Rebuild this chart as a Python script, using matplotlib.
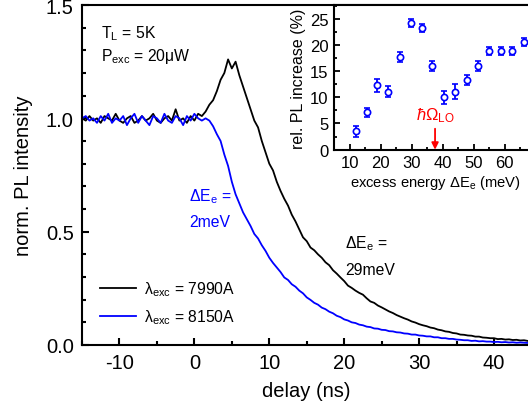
import numpy as np
import matplotlib
matplotlib.use("Agg")
import matplotlib.pyplot as plt
from matplotlib.ticker import MultipleLocator

plt.rcParams['font.family'] = ['Liberation Sans', 'DejaVu Sans']
plt.rcParams['mathtext.fontset'] = 'custom'
plt.rcParams['mathtext.rm'] = 'Liberation Sans'
plt.rcParams['mathtext.it'] = 'Liberation Sans:italic'
plt.rcParams['mathtext.bf'] = 'Liberation Sans:bold'
plt.rcParams['axes.unicode_minus'] = False

# ---------------- data ----------------
delay_ns = np.arange(-15.0, 44.51, 0.5)

pl_7990 = [1.00, 0.99, 1.01, 0.99, 1.00, 0.98, 1.01, 1.00, 0.99, 1.02, 0.99,
           0.98, 1.00, 1.01, 0.98, 0.99, 1.01, 0.99, 1.00, 1.02, 0.99, 0.98,
           1.00, 1.01, 0.99, 1.04, 0.99, 1.00, 0.98, 1.01, 0.99, 1.02, 1.01,
           1.03, 1.06, 1.08, 1.12, 1.17, 1.20, 1.26, 1.22, 1.25, 1.19, 1.14,
           1.09, 1.04, 0.99, 0.96, 0.90, 0.85, 0.80, 0.77, 0.72, 0.68, 0.645,
           0.615, 0.575, 0.545, 0.51, 0.475, 0.458, 0.43, 0.418, 0.40, 0.385,
           0.365, 0.352, 0.33, 0.315, 0.298, 0.282, 0.262, 0.252, 0.24, 0.23,
           0.222, 0.206, 0.192, 0.186, 0.174, 0.166, 0.157, 0.148, 0.141, 0.132,
           0.125, 0.118, 0.112, 0.104, 0.099, 0.092, 0.087, 0.083, 0.077, 0.074,
           0.068, 0.065, 0.060, 0.058, 0.053, 0.051, 0.046, 0.045, 0.042, 0.041,
           0.037, 0.037, 0.033, 0.032, 0.030, 0.030, 0.026, 0.027, 0.024, 0.025,
           0.022, 0.023, 0.020, 0.021, 0.018]

pl_8150 = [1.00, 1.01, 0.99, 1.00, 0.98, 1.01, 0.99, 1.02, 0.98, 1.00, 0.99,
           1.01, 0.97, 1.00, 1.02, 0.98, 1.01, 0.99, 0.97, 1.01, 1.00, 0.98,
           1.02, 0.99, 0.98, 1.01, 1.00, 0.97, 1.01, 0.99, 1.02, 1.00, 0.99,
           1.00, 0.99, 0.965, 0.93, 0.90, 0.84, 0.79, 0.72, 0.665, 0.625, 0.585,
           0.555, 0.525, 0.49, 0.47, 0.44, 0.415, 0.385, 0.362, 0.342, 0.322, 0.298,
           0.287, 0.268, 0.257, 0.24, 0.228, 0.21, 0.199, 0.186, 0.178, 0.165,
           0.158, 0.147, 0.140, 0.129, 0.123, 0.113, 0.108, 0.100, 0.097, 0.090,
           0.087, 0.081, 0.079, 0.073, 0.072, 0.067, 0.066, 0.061, 0.060, 0.056,
           0.055, 0.051, 0.050, 0.046, 0.046, 0.042, 0.041, 0.038, 0.038, 0.034,
           0.034, 0.030, 0.030, 0.027, 0.027, 0.024, 0.023, 0.021, 0.021, 0.018,
           0.019, 0.016, 0.017, 0.015, 0.015, 0.013, 0.014, 0.012, 0.013, 0.011,
           0.012, 0.010, 0.011, 0.010, 0.009]

excess_energy = [12.0, 15.45, 18.9, 22.4, 26.2, 29.7, 33.3, 36.6, 40.3, 44.0,
                 47.7, 51.4, 55.0, 58.7, 62.4, 66.1]
pl_increase = [3.5, 7.1, 12.3, 11.1, 17.7, 24.2, 23.2, 16.0, 10.0, 11.1,
               13.3, 16.0, 18.8, 18.8, 18.8, 20.6]
pl_increase_err = [1.0, 0.9, 1.2, 1.1, 0.9, 0.8, 0.8, 1.0, 1.2, 1.4,
                   0.9, 0.9, 0.8, 0.7, 0.8, 0.8]
inset_xticks = [10, 20, 30, 40, 50, 60]
lo_phonon_mev = 37.5

assert len(pl_7990) == len(delay_ns) and len(pl_8150) == len(delay_ns)

BLUE = '#0000ff'
FS_TICK = 14.5
FS_ANN = 11.3

fig = plt.figure(figsize=(5.28, 4.10), dpi=100)
ax = fig.add_axes([82/528, (410-346)/410, (531.5-82)/528, (346-6)/410])

ax.plot(delay_ns, pl_7990, color='black', lw=1.3, label=r'$\mathregular{\lambda_{exc}}$ = 7990A')
ax.plot(delay_ns, pl_8150, color=BLUE, lw=1.3, label=r'$\mathregular{\lambda_{exc}}$ = 8150A')

ax.set_xlim(-15, 45)
ax.set_ylim(0, 1.5)
ax.xaxis.set_major_locator(MultipleLocator(10))
ax.xaxis.set_minor_locator(MultipleLocator(5))
ax.yaxis.set_major_locator(MultipleLocator(0.5))
ax.yaxis.set_minor_locator(MultipleLocator(0.1))
ax.yaxis.set_major_formatter(matplotlib.ticker.FormatStrFormatter('%.1f'))
ax.tick_params(which='both', direction='in', width=1.5, labelsize=FS_TICK)
ax.tick_params(which='major', length=5, pad=6)
ax.tick_params(which='minor', length=3)
for s in ax.spines.values():
    s.set_linewidth(1.5)
ax.set_xlabel('delay (ns)', fontsize=FS_TICK, labelpad=6)
ax.set_ylabel('norm. PL intensity', fontsize=FS_TICK, labelpad=9)

ax.text(-12.5, 1.38, r'$\mathregular{T_L}$ = 5K', fontsize=FS_ANN, va='center', ha='left')
ax.text(-12.5, 1.275, r'$\mathregular{P_{exc}}$ = 20μW', fontsize=FS_ANN, va='center', ha='left')
ax.text(-0.7, 0.657, r'$\mathregular{\Delta E_e}$ =', fontsize=FS_ANN, va='center', ha='left', color=BLUE)
ax.text(-0.7, 0.545, '2meV', fontsize=FS_ANN, va='center', ha='left', color=BLUE)
ax.text(20.1, 0.45, r'$\mathregular{\Delta E_e}$ =', fontsize=FS_ANN, va='center', ha='left')
ax.text(20.1, 0.335, '29meV', fontsize=FS_ANN, va='center', ha='left')

leg = ax.legend(loc='upper left', bbox_to_anchor=((100-82)/449.5, (346-280)/340),
                frameon=False, fontsize=FS_ANN, handlelength=2.3, handletextpad=0.5,
                borderpad=0, borderaxespad=0, labelspacing=0.62)

# ---------------- inset ----------------
ins = fig.add_axes([334.3/528, (410-150.7)/410, (535.8-334.3)/528, (150.7-6)/410])
ins.errorbar(excess_energy, pl_increase, yerr=pl_increase_err, fmt='o', mfc='white',
             mec=BLUE, ecolor=BLUE, color=BLUE, ms=4.5, mew=1.2, elinewidth=1.3,
             capsize=2.5, capthick=1.5)
ins.set_xlim(5, 70)
ins.set_ylim(0, 27.6)
ins.set_xticks(inset_xticks)
ins.xaxis.set_minor_locator(MultipleLocator(5))
ins.yaxis.set_major_locator(MultipleLocator(5))
ins.yaxis.set_minor_locator(MultipleLocator(2.5))
ins.tick_params(which='both', direction='in', width=1.3, labelsize=12)
ins.tick_params(which='major', length=4, pad=4)
ins.tick_params(which='minor', length=2.5)
for s in ins.spines.values():
    s.set_linewidth(1.5)
ins.set_xlabel(r'excess energy $\mathregular{\Delta E_e}$ (meV)', fontsize=10.6, labelpad=2)
ins.set_ylabel('rel. PL increase (%)', fontsize=11.5, labelpad=3)

ins.annotate('', xy=(lo_phonon_mev, 0), xytext=(lo_phonon_mev, 4.0),
             arrowprops=dict(arrowstyle='-|>', color='red', lw=1.3, mutation_scale=10,
                             shrinkA=0, shrinkB=0))
ins.text(lo_phonon_mev, 6.6, r'$\hbar\Omega_{\mathregular{LO}}$', color='red',
         fontsize=12, ha='center', va='center')

fig.savefig('out.png', dpi=100)
